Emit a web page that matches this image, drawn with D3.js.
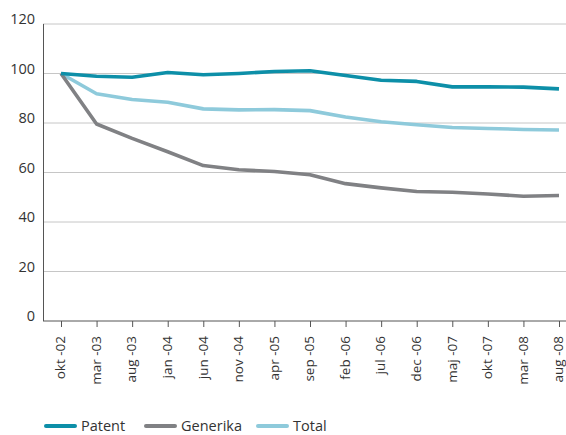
<!DOCTYPE html>
<html><head><meta charset="utf-8">
<script src="https://cdn.jsdelivr.net/npm/d3@7"></script>
<style>body{margin:0;background:#fff}svg{display:block;font-family:"Open Sans",sans-serif}</style>
</head><body><svg id="c" width="566" height="435"></svg>
<script>
const categories = ["okt -02","mar -03","aug -03","jan -04","jun -04","nov -04","apr -05","sep -05","feb -06","jul -06","dec -06","maj -07","okt -07","mar -08","aug -08"];
const patent   = [100, 98.9, 98.5, 100.4, 99.5, 100, 100.8, 101.1, 99.2, 97.3, 96.8, 94.6, 94.6, 94.5, 93.8];
const generika = [100, 79.6, 73.8, 68.4, 62.8, 61.1, 60.4, 59.1, 55.5, 53.8, 52.3, 52.0, 51.3, 50.4, 50.7];
const total    = [100, 91.8, 89.5, 88.4, 85.7, 85.3, 85.4, 85.0, 82.4, 80.5, 79.3, 78.2, 77.8, 77.4, 77.2];
const yTicks = [0, 20, 40, 60, 80, 100, 120];
const seriesNames = ["Patent", "Generika", "Total"];
const colors = ["#0d8fa8", "#808184", "#8ecadb"];

const svg = d3.select("#c");
const pLeft = 43, pRight = 566, pTop = 24, pBottom = 321;
const x = d3.scalePoint().domain(categories).range([61, 559]);
const y = d3.scaleLinear().domain([0, 120]).range([pBottom, pTop]);

// gridlines
svg.append("g").selectAll("line").data(yTicks.filter(d => d > 0)).join("line")
  .attr("x1", pLeft).attr("x2", pRight).attr("y1", d => y(d)).attr("y2", d => y(d))
  .attr("stroke", "#c6c6c6").attr("stroke-width", 1);

// y labels
svg.append("g").selectAll("text").data(yTicks).join("text")
  .attr("x", 35).attr("y", d => y(d)).attr("text-anchor", "end")
  .attr("font-size", 14.5).attr("fill", "#333").text(d => d);

// axes
const xAxis = svg.append("g").attr("transform", `translate(0,${pBottom})`)
  .call(d3.axisBottom(x).tickSize(6).tickPadding(8));
xAxis.select(".domain").attr("d", `M${pLeft},0H${pRight}`).attr("stroke", "#555");
xAxis.selectAll(".tick line").attr("stroke", "#555");
xAxis.selectAll(".tick text").attr("transform", "rotate(-90)").attr("text-anchor", "end")
  .attr("x", -15).attr("y", 0).attr("dy", "0.28em").attr("font-size", 13.5).attr("fill", "#333")
  .attr("font-family", '"Open Sans",sans-serif');
svg.append("line").attr("x1", pLeft + 0.5).attr("x2", pLeft + 0.5).attr("y1", pTop).attr("y2", pBottom)
  .attr("stroke", "#555");

// lines
const data = [patent, generika, total];
const line = d3.line().x((d, i) => x(categories[i])).y(d => y(d));
[2, 1, 0].forEach(k => {
  svg.append("path").attr("d", line(data[k])).attr("fill", "none")
    .attr("stroke", colors[k]).attr("stroke-width", 3.6).attr("stroke-linejoin", "round");
});

// legend
const lx = [46, 146, 258];
seriesNames.forEach((n, i) => {
  svg.append("line").attr("x1", lx[i]).attr("x2", lx[i] + 29).attr("y1", 426).attr("y2", 426)
    .attr("stroke", colors[i]).attr("stroke-width", 4).attr("stroke-linecap", "round");
  svg.append("text").attr("x", lx[i] + 35).attr("y", 431).attr("font-size", 14.5).attr("fill", "#333").text(n);
});
</script></body></html>
